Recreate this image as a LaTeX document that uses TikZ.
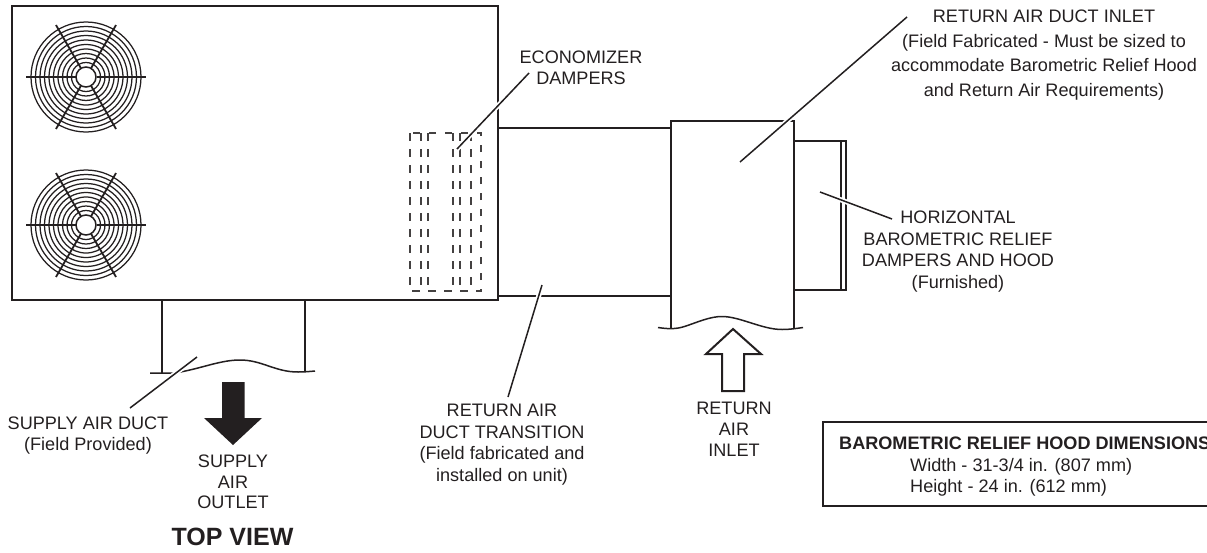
\documentclass[tikz,border=0pt]{standalone}
\usepackage{fontspec}
\setmainfont{Liberation Sans}
\definecolor{ink}{HTML}{231F20}
\tikzset{
  lbl/.style={text=ink,inner sep=0pt,align=center,font=\fontsize{18.1}{#1}\selectfont},
  lbl/.default=21,
  wall/.style={draw=ink,line width=1.7pt},
  thin wall/.style={draw=ink,line width=1.5pt},
  hidden/.style={draw=ink!85,line width=1.2pt,dash pattern=on 7.5pt off 8.5pt},
  leader/.style={draw=ink,line width=1.5pt,preaction={draw=white,line width=5pt}},
  ring/.style={draw=ink,line width=1.25pt},
  spoke/.style={draw=ink,line width=1.8pt},
}
\newcommand{\fangrid}[1]{%
  \begin{scope}[shift={(#1)}]
    \foreach \r in {14.5,19,23.5,28,32.5,37,41.5,46,50.5,55}{\draw[ring] (0,0) circle[radius=\r];}
    \fill[white] (0,0) circle[radius=10];
    \draw[ring,line width=1.5pt] (0,0) circle[radius=10];
    \foreach \a in {0,60,120,180,240,300}{\draw[spoke] (\a:10.5) -- (\a:60);}
  \end{scope}}
\begin{document}
\begin{tikzpicture}[x=1pt,y=-1pt]
\useasboundingbox (0,0) rectangle (1207,552);
\clip (0,0) rectangle (1207,552);
% unit
\draw[wall,line width=2pt] (12,5.5) rectangle (498,300);
\fangrid{86,77}
\fangrid{86,225}
% dampers
\draw[hidden] (410,133) rectangle (481,291);
\foreach \x in {421,428,453,460,471}{\draw[hidden] (\x,133) -- (\x,285);}
% transition
\draw[thin wall] (498,128) -- (672,128);
\draw[thin wall] (498,296) -- (671,296);
% return duct
\draw[wall] (671,328) -- (671,121) -- (794,121) -- (794,328);
\draw[thin wall] (658,327.5) .. controls (668,329) and (676,329.5) .. (686,326)
  .. controls (698,322) and (710,316.5) .. (722,316.5)
  .. controls (740,316.5) and (762,329.5) .. (782,329.5) .. controls (790,329.5) and (796,328.5) .. (803,327.5);
% hood
\draw[thin wall] (794,141) -- (846,141) -- (846,290) -- (794,290);
\draw[thin wall] (841,141) -- (841,290);
% supply duct
\draw[thin wall] (162,300) -- (162,373);
\draw[thin wall] (305,300) -- (305,371);
\draw[thin wall] (150,373) -- (176,373) -- (183,371.5) .. controls (205,367) and (222,360) .. (240,360)
  .. controls (262,360) and (275,372) .. (298,372) .. controls (304,372) and (310,371.5) .. (315,371);
% arrows
\fill[ink] (222,382) -- (244.5,382) -- (244.5,418) -- (262,418) -- (233,445) -- (204,418) -- (222,418) -- cycle;
\draw[wall,line width=2pt,line join=miter] (733,329) -- (761,354) -- (744,354) -- (744,391) -- (722,391) -- (722,354) -- (706,354) -- cycle;
% labels
\node[lbl=24.5] (inletlbl) at (1044,55) {RETURN AIR DUCT INLET\\(Field Fabricated - Must be sized to\\accommodate Barometric Relief Hood\\and Return Air Requirements)};
\node[lbl] (econlbl) at (581,68) {ECONOMIZER\\DAMPERS};
\node[lbl=21.7] (hoodlbl) at (958,251.5) {HORIZONTAL\\BAROMETRIC RELIEF\\DAMPERS AND HOOD\\(Furnished)};
\node[lbl=21.5] (translbl) at (502,444.5) {RETURN AIR\\DUCT TRANSITION\\(Field fabricated and\\installed on unit)};
\node[lbl] (retlbl) at (734,429.5) {RETURN\\AIR\\INLET};
\node[lbl=21.7] (suplbl) at (88,435.5) {SUPPLY AIR DUCT\\(Field Provided)};
\node[lbl=20.6] (outlbl) at (233,482) {SUPPLY\\AIR\\OUTLET};
\node[text=ink,inner sep=0pt,font=\fontsize{25}{28}\selectfont\bfseries] (toplbl) at (232.5,537) {TOP VIEW};
% dimensions box
\draw[wall] (823,422) rectangle (1215,506);
\node[text=ink,inner sep=0pt,anchor=west,font=\fontsize{18.1}{20}\selectfont\bfseries] (boxtitle) at (839,443) {BAROMETRIC RELIEF HOOD DIMENSIONS};
\node[text=ink,inner sep=0pt,anchor=west,font=\fontsize{18.1}{20}\selectfont] (boxw) at (910,467) {Width - 31-3/4 in. (807 mm)};
\node[text=ink,inner sep=0pt,anchor=west,font=\fontsize{18.1}{20}\selectfont] (boxh) at (910,488) {Height - 24 in. (612 mm)};
% leaders
\coordinate (a1) at (740,162); \coordinate (a2) at (907,17);
\coordinate (b1) at (457,149); \coordinate (b2) at (529,73);
\coordinate (c1) at (820,192); \coordinate (c2) at (892,219);
\coordinate (d1) at (542,285); \coordinate (d2) at (508,397);
\coordinate (e1) at (197,357); \coordinate (e2) at (130,408);
\draw[leader] (a1) -- (a2);
\draw[leader] (b1) -- (b2);
\draw[leader] (c1) -- (c2);
\draw[leader] (d1) -- (d2);
\draw[leader] (e1) -- (e2);
\end{tikzpicture}
\end{document}
